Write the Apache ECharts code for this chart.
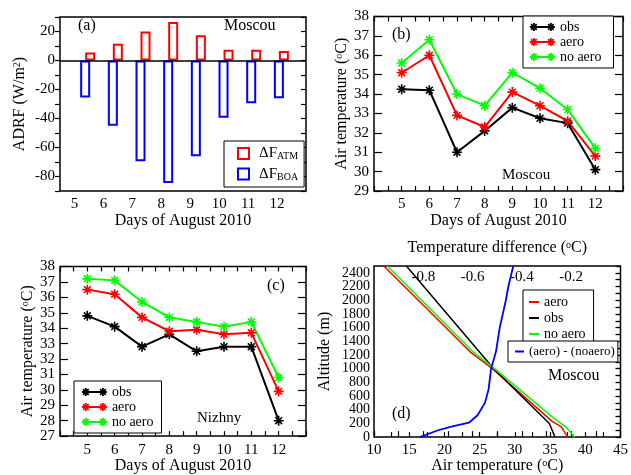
<!DOCTYPE html>
<html><head><meta charset="utf-8">
<script src="https://cdn.jsdelivr.net/npm/echarts@6/dist/echarts.min.js"></script>
<style>html,body{margin:0;padding:0;background:#fff}#c{width:631px;height:475px}</style>
</head><body><div id="c"></div>
<script>
// ---- Data ----
const days = [5, 6, 7, 8, 9, 10, 11, 12];
const adrfAtm = [5.5, 11.5, 20, 26.5, 17.5, 7.5, 7.5, 6.5];
const adrfBoa = [-25.5, -45, -69.5, -84.5, -66, -39.5, -29.5, -26];

const moscouObs = [34.25, 34.2, 31.0, 32.1, 33.3, 32.75, 32.5, 30.1];
const moscouAero = [35.1, 36.0, 32.9, 32.3, 34.1, 33.4, 32.6, 30.8];
const moscouNoAero = [35.6, 36.8, 34.0, 33.4, 35.1, 34.3, 33.2, 31.2];

const nizhnyObs = [34.8, 34.1, 32.8, 33.6, 32.5, 32.8, 32.8, 28.0];
const nizhnyAero = [36.5, 36.2, 34.7, 33.8, 33.9, 33.6, 33.7, 29.9];
const nizhnyNoAero = [37.2, 37.1, 35.7, 34.7, 34.4, 34.1, 34.4, 30.8];

const profObsAlt = [0, 200, 1000, 2500];
const profObsTemp = [35.7, 34.9, 27.0, 14.6];
const profAeroAlt = [0, 150, 230, 1000, 1250, 2500];
const profAeroTemp = [37.5, 36.6, 35.3, 26.8, 23.6, 11.4];
const profNoAeroAlt = [0, 150, 270, 1000, 1250, 2500];
const profNoAeroTemp = [38.5, 37.2, 35.6, 27.1, 24.0, 11.9];
const diffAlt = [0, 100, 150, 210, 320, 500, 700, 1000, 1250, 1600, 2000, 2200, 2500];
const diffVal = [-0.815, -0.74, -0.69, -0.615, -0.58, -0.55, -0.535, -0.525, -0.505, -0.49, -0.465, -0.455, -0.435];

// ---- Chart ----
const FF = 'Liberation Serif';
const chart = echarts.init(document.getElementById('c'), null, {renderer: 'canvas'});
const star = 'path://M5,0 L5,10 M0,5 L10,5 M1.6,1.6 L8.4,8.4 M1.6,8.4 L8.4,1.6';
const starLegendIcon = 'path://M0,5 L25,5 M4,1 L4,9 M0,5 L8,5 M1.2,2.2 L6.8,7.8 M1.2,7.8 L6.8,2.2 ' +
  'M21,1 L21,9 M17,5 L25,5 M18.2,2.2 L23.8,7.8 M18.2,7.8 L23.8,2.2';
const isInt = v => Math.abs(v - Math.round(v)) < 1e-6;
const dayFmt = v => (isInt(v) && v >= 5 && v <= 12) ? String(Math.round(v)) : '';
const supRich = {s: {fontSize: 10, verticalAlign: 'top', fontFamily: FF, padding: [0, 0, 6, 0]}};
const nameStyle = {fontSize: 16, fontFamily: FF, color: '#000', rich: supRich};
const lbl = {fontSize: 15, fontFamily: FF, color: '#000'};

function pairs(xs, ys) { return xs.map((x, i) => [x, ys[i]]); }
function dayAxisBottom(grid) {
  return {type: 'value', gridIndex: grid, position: 'bottom', min: 4, max: 13, interval: 0.5,
    axisLine: {show: false}, splitLine: {show: false},
    axisTick: {show: true, inside: true, length: 5, lineStyle: {color: '#000', width: 1.2}},
    axisLabel: Object.assign({formatter: dayFmt, margin: 6}, lbl),
    name: 'Days of August 2010', nameLocation: 'middle', nameGap: 19, nameTextStyle: nameStyle};
}
function dayAxisTop(grid) {
  return {type: 'value', gridIndex: grid, position: 'top', min: 4, max: 13, interval: 0.5,
    axisLine: {show: false}, splitLine: {show: false}, axisLabel: {show: false},
    axisTick: {show: true, inside: true, length: 5, lineStyle: {color: '#000', width: 1.2}}};
}
function tempAxis(grid, min, max, pos) {
  const left = pos === 'left';
  return {type: 'value', gridIndex: grid, position: pos, min: min, max: max, interval: 1,
    axisLine: {show: false}, splitLine: {show: false},
    axisTick: {show: true, inside: true, length: 8, lineStyle: {color: '#000', width: 1.2}},
    axisLabel: left ? Object.assign({margin: 5}, lbl) : {show: false},
    name: left ? 'Air temperature ({s|o}C)' : '', nameLocation: 'middle', nameGap: 24, nameTextStyle: nameStyle};
}
function lineSeries(name, color, xi, yi, ys) {
  return {type: 'line', name: name, xAxisIndex: xi, yAxisIndex: yi, data: pairs(days, ys),
    symbol: star, symbolSize: 10, showSymbol: true,
    lineStyle: {color: color, width: 2}, itemStyle: {color: color, borderColor: color, borderWidth: 1.6}};
}
function profSeries(name, color, xs, ys, xi, w) {
  return {type: 'line', name: name, xAxisIndex: xi, yAxisIndex: 6, data: pairs(xs, ys),
    symbol: 'none', lineStyle: {color: color, width: w}, itemStyle: {color: color}};
}
const legendNames = {b_obs: 'obs', b_aero: 'aero', b_no: 'no aero', c_obs: 'obs', c_aero: 'aero', c_no: 'no aero',
  d_aero: 'aero', d_obs: 'obs', d_no: 'no aero', d_diff: '(aero) - (noaero)'};
const legText = {fontSize: 14, fontFamily: FF, color: '#000', lineHeight: 13};
function lineLegend(data, left, top, pad) {
  return {data: data, orient: 'vertical', left: left, top: top,
    formatter: n => legendNames[n], textStyle: legText,
    icon: starLegendIcon, itemStyle: {borderWidth: 1.8},
    itemWidth: 25, itemHeight: 8, itemGap: 1, padding: pad,
    borderColor: '#000', borderWidth: 1, backgroundColor: '#fff', selectedMode: false};
}
function plainLegend(data, left, top, pad, w, fs) {
  return {data: data, orient: 'vertical', left: left, top: top,
    formatter: n => legendNames[n], textStyle: {fontSize: fs, fontFamily: FF, color: '#000', lineHeight: 13},
    icon: 'rect', itemWidth: w, itemHeight: 2, itemGap: 2, padding: pad,
    borderColor: '#000', borderWidth: 1, backgroundColor: '#fff', selectedMode: false};
}

const option = {
  animation: false,
  textStyle: {fontFamily: FF},
  grid: [
    {left: 60, top: 17, width: 246, height: 174, show: true, borderColor: '#000', borderWidth: 1.5, backgroundColor: 'transparent'},
    {left: 374, top: 16.5, width: 249, height: 174.5, show: true, borderColor: '#000', borderWidth: 1.5, backgroundColor: 'transparent'},
    {left: 60, top: 266.5, width: 246, height: 172.5, show: true, borderColor: '#000', borderWidth: 1.5, backgroundColor: 'transparent'},
    {left: 374, top: 266, width: 249, height: 173, show: true, borderColor: '#000', borderWidth: 1.5, backgroundColor: 'transparent'}
  ],
  xAxis: [
    {type: 'value', gridIndex: 0, position: 'bottom', min: 4.5, max: 13, interval: 0.5,
      axisLine: {show: false}, splitLine: {show: false}, axisTick: {show: false},
      axisLabel: Object.assign({formatter: dayFmt, margin: 6}, lbl),
      name: 'Days of August 2010', nameLocation: 'middle', nameGap: 19, nameTextStyle: nameStyle},
    {type: 'value', gridIndex: 0, min: 4, max: 12.89, show: false},
    dayAxisBottom(1), dayAxisTop(1),
    dayAxisBottom(2), dayAxisTop(2),
    {type: 'value', gridIndex: 3, position: 'bottom', min: 10, max: 45, interval: 2.5,
      axisLine: {show: false}, splitLine: {show: false},
      axisTick: {show: true, inside: true, length: 5, lineStyle: {color: '#000', width: 1.2}},
      axisLabel: Object.assign({margin: 5, formatter: v => (Math.round(v) % 5 === 0 && isInt(v)) ? String(Math.round(v)) : ''}, lbl),
      name: 'Air temperature ({s|o}C)', nameLocation: 'middle', nameGap: 19, nameTextStyle: nameStyle},
    {type: 'value', gridIndex: 3, position: 'top', min: -1, max: 0, interval: 0.1,
      axisLine: {show: false}, splitLine: {show: false},
      axisTick: {show: true, inside: false, length: 6, lineStyle: {color: '#000', width: 1.2}},
      axisLabel: Object.assign({inside: true, margin: 4, formatter: v => {
        const k = Math.round(v * 10);
        return (k % 2 === 0 && k <= -2 && k >= -8) ? (k / 10).toFixed(1) : '';
      }}, lbl),
      name: 'Temperature difference ({s|o}C)', nameLocation: 'middle', nameGap: 10, nameTextStyle: nameStyle}
  ],
  yAxis: [
    {type: 'value', gridIndex: 0, position: 'left', min: -90, max: 30, interval: 10,
      axisLine: {show: false}, splitLine: {show: false},
      axisTick: {show: true, inside: false, length: 5, lineStyle: {color: '#000', width: 1.2}},
      axisLabel: Object.assign({margin: 5, formatter: v => (Math.round(v) % 20 === 0) ? String(Math.round(v)) : ''}, lbl),
      name: 'ADRF (W/m{s|2})', nameLocation: 'middle', nameGap: 32, nameTextStyle: nameStyle},
    {type: 'value', gridIndex: 0, position: 'right', min: -90, max: 30, interval: 10,
      axisLine: {show: false}, splitLine: {show: false}, axisLabel: {show: false},
      axisTick: {show: true, inside: true, length: 5, lineStyle: {color: '#000', width: 1.2}}},
    tempAxis(1, 29, 38, 'left'), tempAxis(1, 29, 38, 'right'),
    tempAxis(2, 27, 38, 'left'), tempAxis(2, 27, 38, 'right'),
    {type: 'value', gridIndex: 3, position: 'left', min: 0, max: 2500, interval: 100,
      axisLine: {show: false}, splitLine: {show: false},
      axisTick: {show: true, inside: false, length: 4, lineStyle: {color: '#000', width: 1.2}},
      axisLabel: {margin: 4, fontSize: 14, fontFamily: FF, color: '#000',
        formatter: v => (Math.round(v) % 200 === 0 && v <= 2400) ? String(Math.round(v)) : ''},
      name: 'Altitude (m)', nameLocation: 'middle', nameGap: 41, nameTextStyle: nameStyle},
    {type: 'value', gridIndex: 3, position: 'right', min: 0, max: 2500, interval: 100,
      axisLine: {show: false}, splitLine: {show: false}, axisLabel: {show: false},
      axisTick: {show: true, inside: true, length: 5, lineStyle: {color: '#000', width: 1.2}}}
  ],
  legend: [
    {data: ['ΔF_ATM', 'ΔF_BOA'], orient: 'vertical', left: 224, top: 141,
      icon: 'rect', itemWidth: 11, itemHeight: 11, itemGap: 5, padding: [5, 6, 5, 13],
      borderColor: '#000', borderWidth: 1, backgroundColor: '#fff', selectedMode: false,
      formatter: n => n === 'ΔF_ATM' ? '{a|ΔF}{s|ATM}' : '{a|ΔF}{s|BOA}',
      textStyle: {rich: {a: {fontSize: 15, fontFamily: FF, color: '#000', padding: [0, 0, 0, 5]},
        s: {fontSize: 10, fontFamily: FF, color: '#000', verticalAlign: 'bottom', padding: [6, 0, 0, 0]}}}},
    lineLegend(['b_obs', 'b_aero', 'b_no'], 523, 16, [4, 12, 4, 6]),
    lineLegend(['c_obs', 'c_aero', 'c_no'], 74, 381, [4, 8, 4, 7]),
    plainLegend(['d_aero', 'd_obs', 'd_no'], 523, 290, [5, 8, 5, 6], 10, 14),
    plainLegend(['d_diff'], 508, 341, [4, 3, 4, 7], 9, 13)
  ],
  series: [
    {type: 'bar', name: 'ΔF_BOA', xAxisIndex: 1, yAxisIndex: 0, data: pairs(days, adrfBoa),
      barWidth: 10, barGap: '-50%',
      itemStyle: {color: 'rgba(0,0,0,0)', borderColor: '#0000ff', borderWidth: 2},
      markLine: {silent: true, symbol: 'none', label: {show: false},
        lineStyle: {color: '#000', width: 1.5, type: 'solid'}, data: [{yAxis: 0}]}},
    {type: 'bar', name: 'ΔF_ATM', xAxisIndex: 1, yAxisIndex: 0, data: pairs(days, adrfAtm),
      barWidth: 10, barGap: '-50%',
      itemStyle: {color: 'rgba(0,0,0,0)', borderColor: '#ff0000', borderWidth: 2}},
    lineSeries('b_obs', '#000000', 2, 2, moscouObs),
    lineSeries('b_aero', '#ff0000', 2, 2, moscouAero),
    lineSeries('b_no', '#00ff00', 2, 2, moscouNoAero),
    lineSeries('c_obs', '#000000', 4, 4, nizhnyObs),
    lineSeries('c_aero', '#ff0000', 4, 4, nizhnyAero),
    lineSeries('c_no', '#00ff00', 4, 4, nizhnyNoAero),
    profSeries('d_aero', '#ff0000', profAeroTemp, profAeroAlt, 6, 1.5),
    profSeries('d_obs', '#000000', profObsTemp, profObsAlt, 6, 1.5),
    profSeries('d_no', '#00ff00', profNoAeroTemp, profNoAeroAlt, 6, 1.5),
    profSeries('d_diff', '#0000ff', diffVal, diffAlt, 7, 1.8)
  ],
  graphic: [
    {type: 'text', left: 78, top: 18, style: {text: '(a)', font: '16px "Liberation Serif"', fill: '#000'}},
    {type: 'text', left: 224, top: 18, style: {text: 'Moscou', font: '16px "Liberation Serif"', fill: '#000'}},
    {type: 'text', left: 392, top: 27, style: {text: '(b)', font: '16px "Liberation Serif"', fill: '#000'}},
    {type: 'text', left: 502, top: 168, style: {text: 'Moscou', font: '15px "Liberation Serif"', fill: '#000'}},
    {type: 'text', left: 267, top: 278, style: {text: '(c)', font: '16px "Liberation Serif"', fill: '#000'}},
    {type: 'text', left: 197, top: 411, style: {text: 'Nizhny', font: '15px "Liberation Serif"', fill: '#000'}},
    {type: 'text', left: 392, top: 406, style: {text: '(d)', font: '16px "Liberation Serif"', fill: '#000'}},
    {type: 'text', left: 548, top: 368, style: {text: 'Moscou', font: '16px "Liberation Serif"', fill: '#000'}}
  ]
};
chart.setOption(option);
</script>
</body></html>
